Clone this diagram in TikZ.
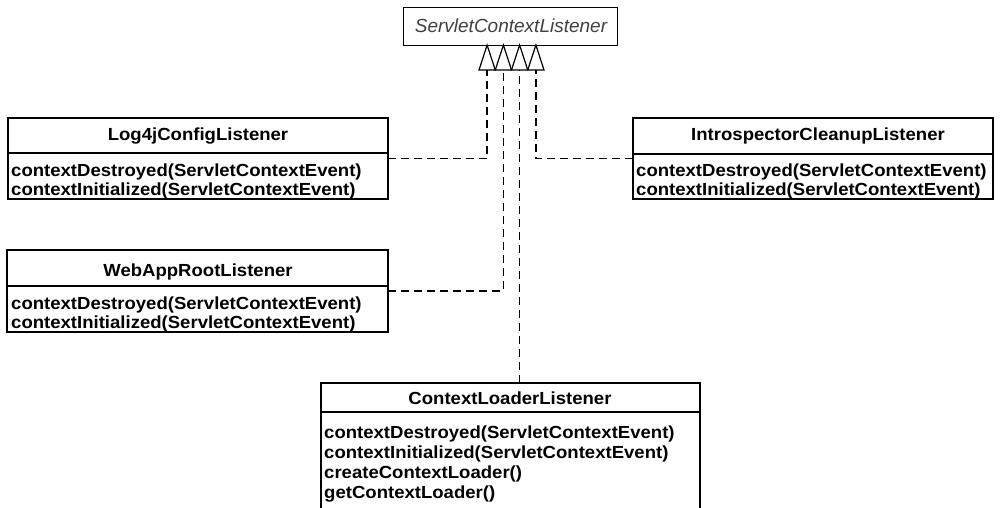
\documentclass[tikz,border=0pt]{standalone}
\usepackage{fontspec}
\setmainfont{Liberation Sans}
\newfontfamily\clsfont{Liberation Sans}[FakeStretch=1.06]
\begin{document}
\begin{tikzpicture}[x=1pt,y=-1pt,
  cls/.style={draw, line width=1.4pt, anchor=north west, inner sep=0pt, outer sep=0pt},
  sep/.style={line width=1.2pt},
  hdr/.style={font=\clsfont\bfseries\fontsize{17.5}{19}\selectfont, anchor=base, inner sep=0pt},
  mth/.style={font=\clsfont\bfseries\fontsize{17.5}{19}\selectfont, anchor=base west, inner sep=0pt},
  dep/.style={line width=1.3pt, dash pattern=on 8pt off 5pt},
  tri/.style={draw, fill=white, line width=1.2pt, line join=miter}
]
\clip (0,0) rectangle (1006,508);
\useasboundingbox (0,0) rectangle (1006,508);

% interface
\node[draw, line width=0.9pt, anchor=north west, minimum width=214pt, minimum height=38pt, inner sep=0pt] (iface) at (403,7) {};
\node[font=\itshape\fontsize{19}{21}\selectfont, text=black!75, anchor=base, inner sep=0pt] (ifacet) at (511,33) {ServletContextListener};

% realization triangles
\draw[tri] (479,70) -- (487.1,45) -- (495.25,70) -- cycle;
\draw[tri] (495.25,70) -- (503.4,45) -- (511.5,70) -- cycle;
\draw[tri] (511.5,70) -- (519.6,45) -- (527.75,70) -- cycle;
\draw[tri] (527.75,70) -- (535.9,45) -- (544,70) -- cycle;
\coordinate (b1) at (487.1,70);
\coordinate (b2) at (503.4,70);
\coordinate (b3) at (519.6,70);
\coordinate (b4) at (535.9,70);

% Log4jConfigListener
\node[cls, minimum width=380pt, minimum height=81pt] (log4j) at (8,118) {};
\draw[sep] (8,153) -- (388,153);
\node[hdr] (log4jh) at (198,141) {Log4jConfigListener};
\node[mth] (log4jm1) at (11,176) {contextDestroyed(ServletContextEvent)};
\node[mth] (log4jm2) at (11,195) {contextInitialized(ServletContextEvent)};

% IntrospectorCleanupListener
\node[cls, minimum width=360pt, minimum height=81pt] (intro) at (633,118) {};
\draw[sep] (633,154) -- (993,154);
\node[hdr] (introh) at (818,141) {IntrospectorCleanupListener};
\node[mth] (introm1) at (636,176) {contextDestroyed(ServletContextEvent)};
\node[mth] (introm2) at (636,195) {contextInitialized(ServletContextEvent)};

% WebAppRootListener
\node[cls, minimum width=381pt, minimum height=82pt] (webapp) at (7,250) {};
\draw[sep] (7,286) -- (388,286);
\node[hdr] (webapph) at (198,276) {WebAppRootListener};
\node[mth] (webappm1) at (11,309) {contextDestroyed(ServletContextEvent)};
\node[mth] (webappm2) at (11,328) {contextInitialized(ServletContextEvent)};

% ContextLoaderListener
\node[cls, minimum width=379pt, minimum height=150pt] (ctx) at (321,383) {};
\draw[sep] (321,412) -- (700,412);
\node[hdr] (ctxh) at (510,404) {ContextLoaderListener};
\node[mth] (ctxm1) at (324,438) {contextDestroyed(ServletContextEvent)};
\node[mth] (ctxm2) at (324,458) {contextInitialized(ServletContextEvent)};
\node[mth] (ctxm3) at (324,478) {createContextLoader()};
\node[mth] (ctxm4) at (324,498) {getContextLoader()};

% realization connectors
\draw[dep] (log4j.east) -| (b1);
\draw[dep] (webapp.east) -| (b2);
\draw[dep] (ctx.north -| b3) -- (b3);
\draw[dep] (intro.west) -| (b4);
\end{tikzpicture}
\end{document}
